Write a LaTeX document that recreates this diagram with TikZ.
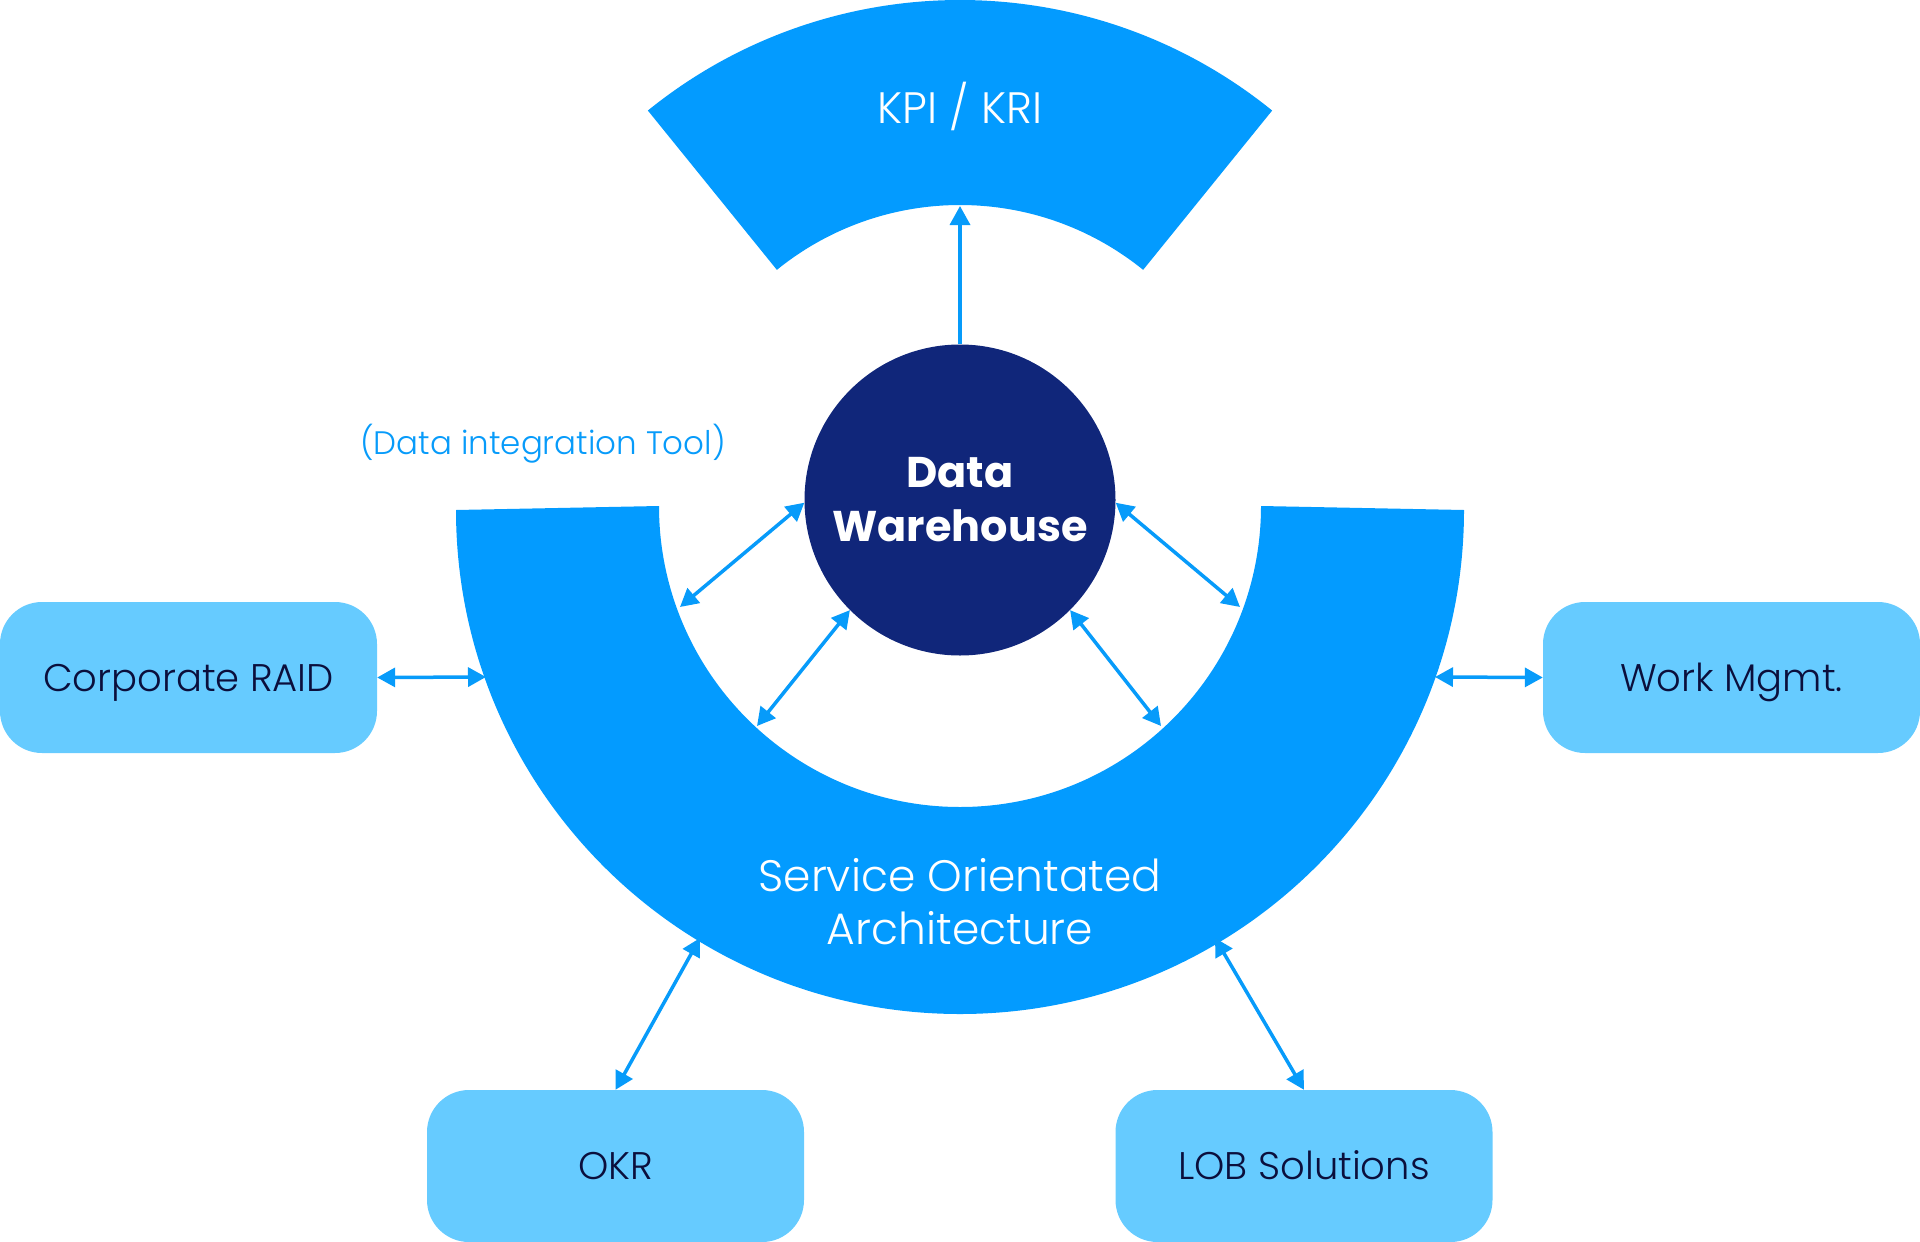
\documentclass[tikz,border=0pt]{standalone}
\usepackage{fontspec}
\setmainfont{Poppins}
\IfFontExistsTF{Poppins Light}{\newfontfamily\poplight{Poppins Light}}{\newfontfamily\poplight{Poppins}}
\usetikzlibrary{arrows.meta}
\definecolor{sky}{HTML}{039BFF}
\definecolor{navy}{HTML}{10267A}
\definecolor{pale}{HTML}{66CBFF}
\definecolor{ink}{HTML}{0B0F3C}
\definecolor{arrowc}{HTML}{079BFA}
\begin{document}
\begin{tikzpicture}[x=1pt,y=-1pt,
  box/.style={fill=pale, rounded corners=42pt, minimum width=377pt, minimum height=151pt, inner sep=0pt, text=ink, text height=27pt, text depth=0pt, font=\poplight\fontsize{38.5}{46}\selectfont},
  link/.style={draw=arrowc, line width=3.5pt, {Triangle[length=18pt,width=19pt]}-{Triangle[length=18pt,width=19pt]}},
  uplink/.style={draw=arrowc, line width=3.5pt, -{Triangle[length=19pt,width=20pt]}},
  bigtext/.style={text=white, align=center, font=\poplight\fontsize{44}{53}\selectfont}]
\useasboundingbox (0,0) rectangle (1920,1242);
% Service Orientated Architecture band
\fill[sky] (456,510) arc[start angle=180, end angle=0, radius=504] -- (1261,506)
  arc[start angle=0, end angle=180, radius=301] -- cycle;
\node[bigtext] (soa) at (960,902) {Service Orientated\\Architecture};
% KPI / KRI sector
\fill[sky] ([shift={(960,496)}]231:496) arc[start angle=231, end angle=309, radius=496]
  -- ([shift={(960,496)}]309:291) arc[start angle=309, end angle=231, radius=291] -- cycle;
\node[bigtext] (kpi) at (960,106) {KPI / KRI};
% label
\node[text=arrowc, font=\poplight\fontsize{32.5}{40}\selectfont] (dit) at (543,444) {(Data integration Tool)};
% boxes
\node[box] (raid) at (188.5,677.5) {Corporate RAID};
\node[box] (work) at (1731.5,677.5) {Work Mgmt.};
\node[box, minimum height=152pt] (okr) at (615.5,1166) {OKR};
\node[box, minimum height=152pt] (lob) at (1304,1166) {LOB Solutions};
% data warehouse
\node[circle, fill=navy, minimum size=311pt, inner sep=0pt, text=white, align=center,
  font=\bfseries\fontsize{43}{54}\selectfont] (dw) at (960,500) {Data\\Warehouse};
% connector ends on the shapes
\coordinate (kpiin) at (960,206);
\coordinate (soaL) at (486,677);
\coordinate (soaR) at (1435,677);
\coordinate (in1) at (680,607);
\coordinate (in2) at (757,726);
\coordinate (in3) at (1240,607);
\coordinate (in4) at (1161,726);
\coordinate (out1) at (700,938);
\coordinate (out2) at (1215,938);
% connectors
\draw[uplink] (dw.north) -- (kpiin);
\draw[link] (raid.east) -- (soaL);
\draw[link] (work.west) -- (soaR);
\draw[link] (dw.181) -- (in1);
\draw[link] (dw.225) -- (in2);
\draw[link] (dw.-1) -- (in3);
\draw[link] (dw.315) -- (in4);
\draw[link] (okr.north) -- (out1);
\draw[link] (lob.north) -- (out2);
\end{tikzpicture}
\end{document}
